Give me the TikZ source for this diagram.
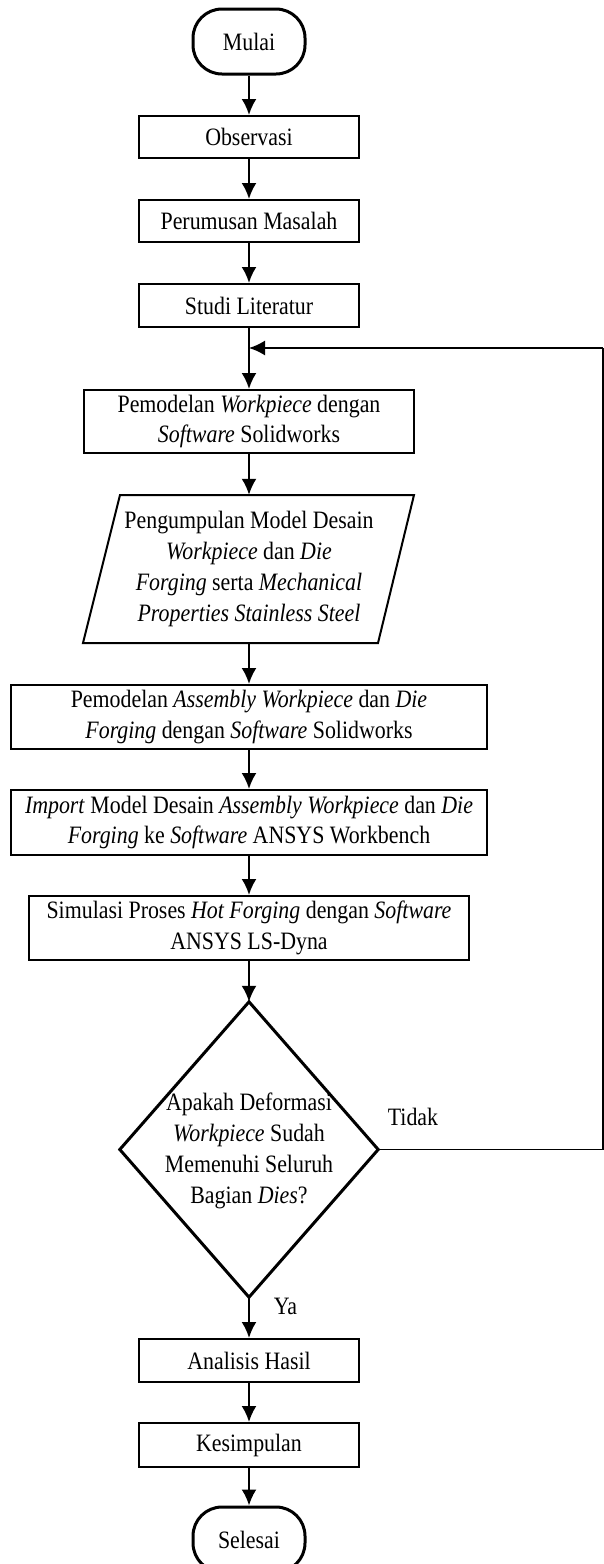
\documentclass[tikz,border=0pt]{standalone}
\usepackage{fontspec}
\setmainfont[FakeStretch=0.875]{Liberation Serif}
\usetikzlibrary{arrows.meta}
\begin{document}
\begin{tikzpicture}[x=1pt,y=-1pt,
  txt/.style={font=\fontsize{25pt}{30.8pt}\selectfont, align=center, inner sep=0pt},
  term/.style={txt, draw, line width=3pt, rounded corners=29pt, minimum width=112pt, minimum height=65pt},
  proc/.style={txt, draw, line width=2pt, minimum height=43pt},
  ghost/.style={txt},
  flow/.style={line width=2.2pt, -{Latex[length=16pt,width=15pt]}},
  line/.style={line width=1.7pt}
]
\useasboundingbox (0,0) rectangle (604,1564);
\clip (0,0) rectangle (604,1564);

\node[term] (mulai) at (249,41.5) {Mulai};
\node[proc, minimum width=220pt, minimum height=42pt] (obs) at (249,137) {Observasi};
\node[proc, minimum width=220pt, minimum height=42pt] (perum) at (249,221) {Perumusan Masalah};
\node[proc, minimum width=220pt] (studi) at (249,305.5) {Studi Literatur};
\node[proc, minimum width=330pt, minimum height=63pt] (pemod) at (249,421.5) {Pemodelan \emph{Workpiece} dengan\\\emph{Software} Solidworks};

\node[ghost, minimum width=294pt, minimum height=148pt] (param) at (249,569)
  {Pengumpulan Model Desain\\\emph{Workpiece} dan \emph{Die}\\\emph{Forging} serta \emph{Mechanical}\\\emph{Properties Stainless Steel}};
\draw[line width=2pt] (120,495) -- (414,495) -- (378,643) -- (83,643) -- cycle;

\node[proc, minimum width=476pt, minimum height=64pt] (asm) at (249,717) {Pemodelan \emph{Assembly Workpiece} dan \emph{Die}\\\emph{Forging} dengan \emph{Software} Solidworks};
\node[proc, minimum width=476pt, minimum height=65pt] (imp) at (249,822.5) {\emph{Import} Model Desain \emph{Assembly Workpiece} dan \emph{Die}\\\emph{Forging} ke \emph{Software} ANSYS Workbench};
\node[proc, minimum width=440pt, minimum height=64pt] (sim) at (249,928) {Simulasi Proses \emph{Hot Forging} dengan \emph{Software}\\ANSYS LS-Dyna};

\node[ghost, minimum width=258pt, minimum height=295pt] (dec) at (249,1149.5) {};
\draw[line width=3pt, line join=miter] (dec.north) -- (dec.east) -- (dec.south) -- (dec.west) -- cycle;
\node[txt] (dectxt) at (249,1151) {Apakah Deformasi\\\emph{Workpiece} Sudah\\Memenuhi Seluruh\\Bagian \emph{Dies}?};

\node[proc, minimum width=220pt] (ana) at (249,1360.5) {Analisis Hasil};
\node[proc, minimum width=220pt, minimum height=44pt] (kes) at (249,1445) {Kesimpulan};
\node[term] (sel) at (249,1539.5) {Selesai};

\node[txt] (tidak) at (413,1117) {Tidak};
\node[txt] (ya) at (285.5,1306) {Ya};

\coordinate (fbr) at (603,1149.5);
\coordinate (fbt) at (603,348);
\coordinate (join) at (249,348);

\draw[flow] (mulai) -- (obs);
\draw[flow] (obs) -- (perum);
\draw[flow] (perum) -- (studi);
\draw[flow] (studi) -- (pemod);
\draw[flow] (pemod) -- (param);
\draw[flow] (param) -- (asm);
\draw[flow] (asm) -- (imp);
\draw[flow] (imp) -- (sim);
\draw[flow] (sim) -- (dec.north);
\draw[flow] (dec.south) -- (ana);
\draw[flow] (ana) -- (kes);
\draw[flow] (kes) -- (sel);
\draw[line] (dec.east) -- (fbr) -- (fbt);
\draw[line, -{Latex[length=16pt,width=15pt]}] (fbt) -- (join);
\end{tikzpicture}
\end{document}
